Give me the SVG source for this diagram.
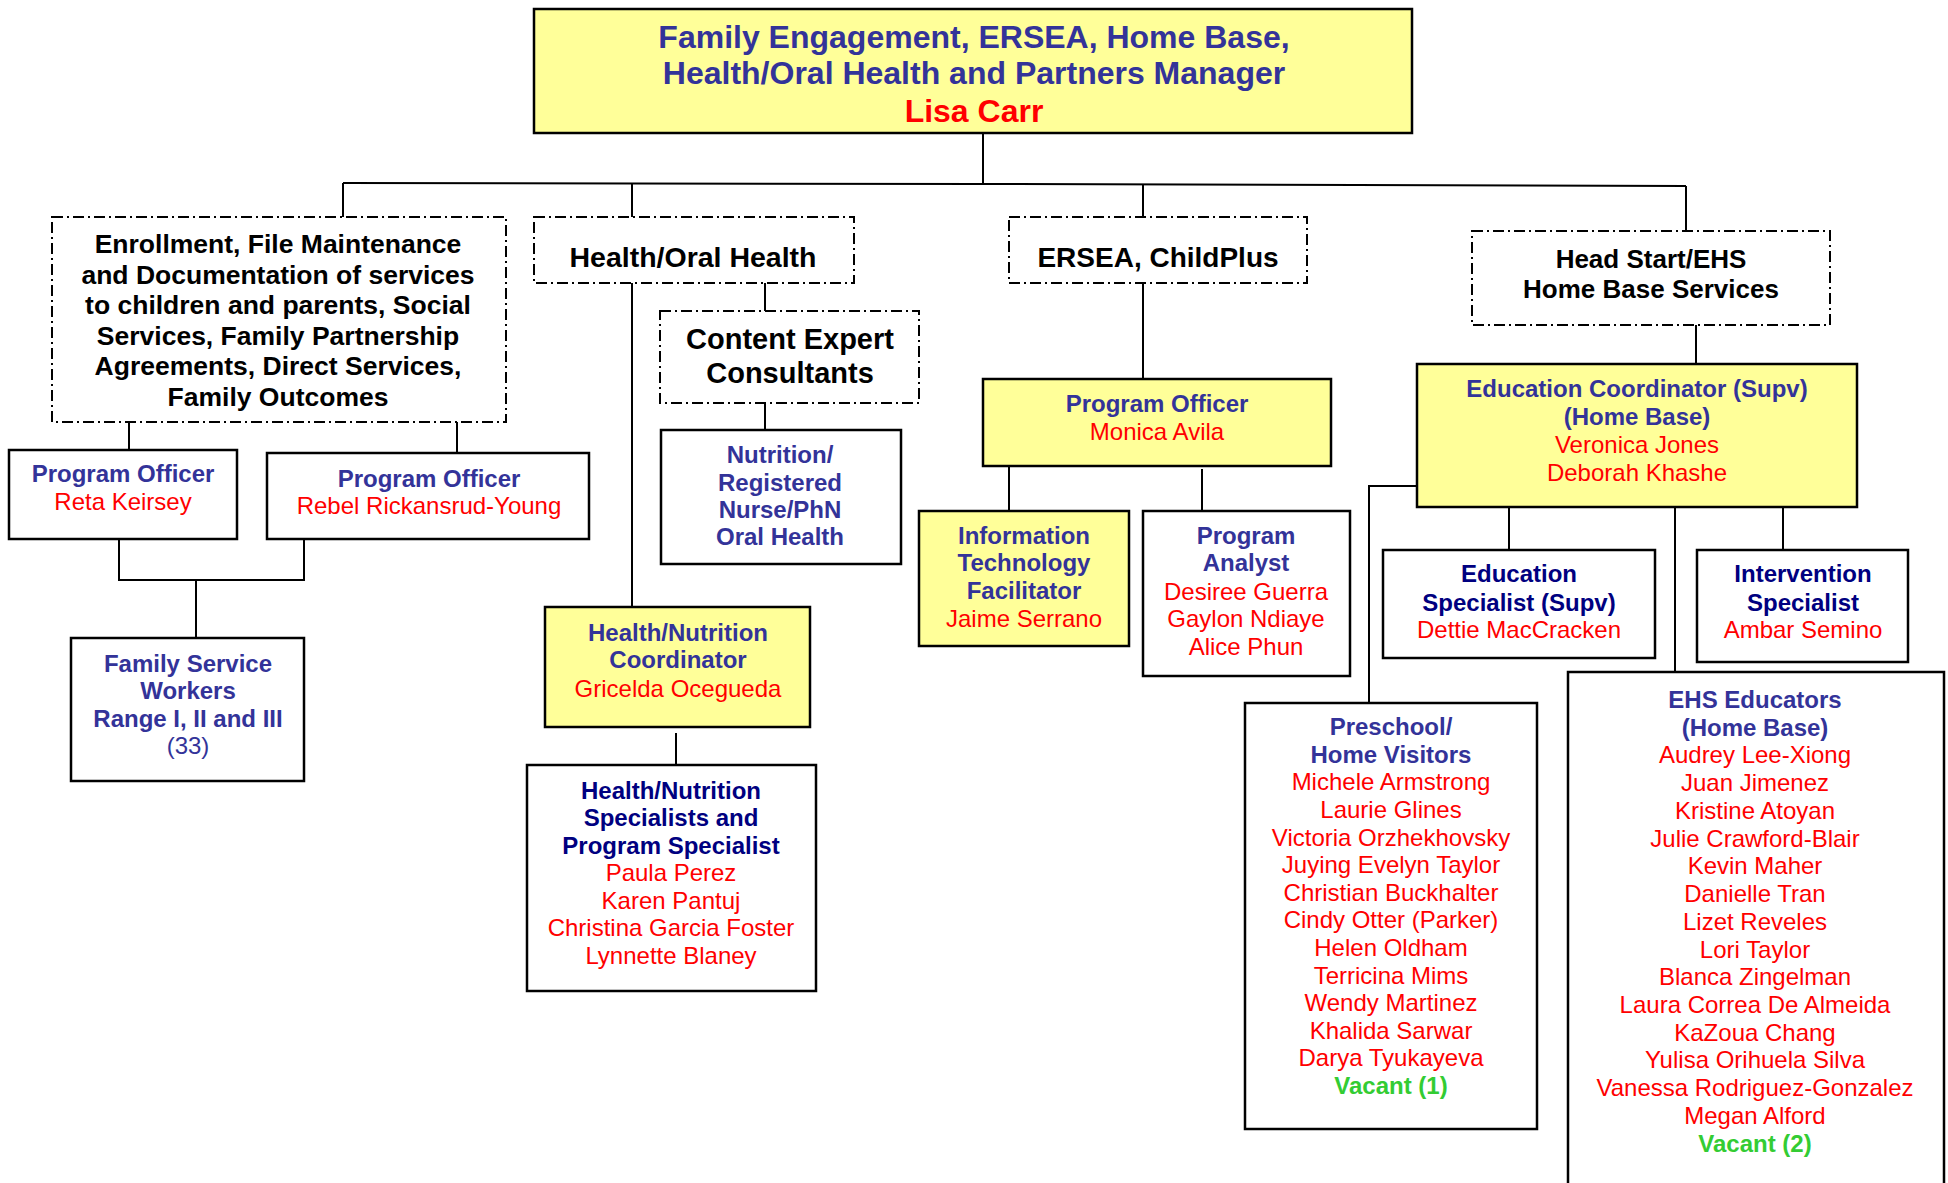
<svg xmlns="http://www.w3.org/2000/svg" width="1948" height="1183" viewBox="0 0 1948 1183">
<style>
text{font-family:"Liberation Sans",Arial,sans-serif;text-anchor:middle}
.box{fill:#fff;stroke:#000;stroke-width:2.5}
.yel{fill:#FFFF99;stroke:#000;stroke-width:2.5}
.dd{fill:#fff;stroke:#000;stroke-width:2;stroke-dasharray:11 4 2 4}
.ln{fill:none;stroke:#000;stroke-width:2}
.t{font-size:32px;font-weight:bold;fill:#333399}
.tr{font-size:32px;font-weight:bold;fill:#FF0000}
.k{font-weight:bold;fill:#000}
.b{font-size:24px;font-weight:bold;fill:#333399}
.bn{font-size:24px;fill:#333399}
.n{font-size:24px;font-weight:bold;fill:#000080}
.r{font-size:24px;fill:#FF0000}
.g{font-size:24px;font-weight:bold;fill:#33CC33}
</style>
<g id="connectors">
<polyline class="ln" points="983,133 983,183"/>
<polyline class="ln" points="343,183 983,184 1686,186"/>
<polyline class="ln" points="343,183 343,217"/>
<polyline class="ln" points="632,183 632,607"/>
<polyline class="ln" points="1143,185 1143,379"/>
<polyline class="ln" points="1686,186 1686,231"/>
<polyline class="ln" points="765,283 765,311"/>
<polyline class="ln" points="765,403 765,430"/>
<polyline class="ln" points="676,733 676,765"/>
<polyline class="ln" points="129,422 129,450"/>
<polyline class="ln" points="457,422 457,453"/>
<polyline class="ln" points="119,539 119,580 304,580 304,539"/>
<polyline class="ln" points="196,580 196,638"/>
<polyline class="ln" points="1009,466 1009,511"/>
<polyline class="ln" points="1202,469 1202,511"/>
<polyline class="ln" points="1696,325 1696,364"/>
<polyline class="ln" points="1509,507 1509,550"/>
<polyline class="ln" points="1783,507 1783,550"/>
<polyline class="ln" points="1675,507 1675,672"/>
<polyline class="ln" points="1417,486 1369,486 1369,703"/>
</g>
<g id="manager">
<rect class="yel" x="534" y="9" width="878" height="124"/>
<text class="t" x="974" y="48">Family Engagement, ERSEA, Home Base,</text>
<text class="t" x="974" y="84">Health/Oral Health and Partners Manager</text>
<text class="tr" x="974" y="122">Lisa Carr</text>
</g>
<g id="enrollment">
<rect class="dd" x="52" y="217" width="454" height="205"/>
<text class="k" font-size="26.5" x="278" y="253">Enrollment, File Maintenance</text>
<text class="k" font-size="26.5" x="278" y="283.5">and Documentation of services</text>
<text class="k" font-size="26.5" x="278" y="314">to children and parents, Social</text>
<text class="k" font-size="26.5" x="278" y="344.5">Services, Family Partnership</text>
<text class="k" font-size="26.5" x="278" y="375">Agreements, Direct Services,</text>
<text class="k" font-size="26.5" x="278" y="405.5">Family Outcomes</text>
</g>
<g id="health-oral">
<rect class="dd" x="534" y="217" width="320" height="66"/>
<text class="k" font-size="28.5" x="693" y="267">Health/Oral Health</text>
</g>
<g id="content-expert">
<rect class="dd" x="660" y="311" width="259" height="92"/>
<text class="k" font-size="29" x="790" y="349">Content Expert</text>
<text class="k" font-size="29" x="790" y="383">Consultants</text>
</g>
<g id="nutrition">
<rect class="box" x="661" y="430" width="240" height="134"/>
<text class="b" x="780" y="463">Nutrition/</text>
<text class="b" x="780" y="490.5">Registered</text>
<text class="b" x="780" y="518">Nurse/PhN</text>
<text class="b" x="780" y="545">Oral Health</text>
</g>
<g id="hn-coordinator">
<rect class="yel" x="545" y="607" width="265" height="120"/>
<text class="b" x="678" y="641">Health/Nutrition</text>
<text class="b" x="678" y="668">Coordinator</text>
<text class="r" x="678" y="697">Gricelda Ocegueda</text>
</g>
<g id="hn-specialists">
<rect class="box" x="527" y="765" width="289" height="226"/>
<text class="n" x="671" y="798.5">Health/Nutrition</text>
<text class="n" x="671" y="826">Specialists and</text>
<text class="n" x="671" y="853.5">Program Specialist</text>
<text class="r" x="671" y="881">Paula Perez</text>
<text class="r" x="671" y="908.5">Karen Pantuj</text>
<text class="r" x="671" y="936">Christina Garcia Foster</text>
<text class="r" x="671" y="963.5">Lynnette Blaney</text>
</g>
<g id="po-reta">
<rect class="box" x="9" y="450" width="228" height="89"/>
<text class="b" x="123" y="482">Program Officer</text>
<text class="r" x="123" y="510">Reta Keirsey</text>
</g>
<g id="po-rebel">
<rect class="box" x="267" y="453" width="322" height="86"/>
<text class="b" x="429" y="487">Program Officer</text>
<text class="r" x="429" y="514">Rebel Rickansrud-Young</text>
</g>
<g id="fsw">
<rect class="box" x="71" y="638" width="233" height="143"/>
<text class="b" x="188" y="672">Family Service</text>
<text class="b" x="188" y="699">Workers</text>
<text class="b" x="188" y="726.5">Range I, II and III</text>
<text class="bn" x="188" y="754">(33)</text>
</g>
<g id="ersea">
<rect class="dd" x="1009" y="217" width="298" height="66"/>
<text class="k" font-size="28" x="1158" y="267">ERSEA, ChildPlus</text>
</g>
<g id="po-monica">
<rect class="yel" x="983" y="379" width="348" height="87"/>
<text class="b" x="1157" y="412">Program Officer</text>
<text class="r" x="1157" y="439.5">Monica Avila</text>
</g>
<g id="it">
<rect class="yel" x="919" y="511" width="210" height="135"/>
<text class="b" x="1024" y="544">Information</text>
<text class="b" x="1024" y="571">Technology</text>
<text class="b" x="1024" y="598.5">Facilitator</text>
<text class="r" x="1024" y="627">Jaime Serrano</text>
</g>
<g id="analyst">
<rect class="box" x="1143" y="511" width="207" height="165"/>
<text class="b" x="1246" y="544">Program</text>
<text class="b" x="1246" y="571">Analyst</text>
<text class="r" x="1246" y="600">Desiree Guerra</text>
<text class="r" x="1246" y="627">Gaylon Ndiaye</text>
<text class="r" x="1246" y="654.5">Alice Phun</text>
</g>
<g id="headstart">
<rect class="dd" x="1472" y="231" width="358" height="94"/>
<text class="k" font-size="26" x="1651" y="267.5">Head Start/EHS</text>
<text class="k" font-size="26" x="1651" y="297.5">Home Base Services</text>
</g>
<g id="ed-coordinator">
<rect class="yel" x="1417" y="364" width="440" height="143"/>
<text class="b" x="1637" y="397">Education Coordinator (Supv)</text>
<text class="b" x="1637" y="424.5">(Home Base)</text>
<text class="r" x="1637" y="453">Veronica Jones</text>
<text class="r" x="1637" y="480.5">Deborah Khashe</text>
</g>
<g id="ed-specialist">
<rect class="box" x="1383" y="550" width="272" height="108"/>
<text class="n" x="1519" y="582">Education</text>
<text class="n" x="1519" y="611">Specialist (Supv)</text>
<text class="r" x="1519" y="638">Dettie MacCracken</text>
</g>
<g id="intervention">
<rect class="box" x="1697" y="550" width="211" height="112"/>
<text class="n" x="1803" y="582">Intervention</text>
<text class="n" x="1803" y="611">Specialist</text>
<text class="r" x="1803" y="638">Ambar Semino</text>
</g>
<g id="preschool">
<rect class="box" x="1245" y="703" width="292" height="426"/>
<text class="b" x="1391" y="735">Preschool/</text>
<text class="b" x="1391" y="762.6">Home Visitors</text>
<text class="r" x="1391" y="790.2">Michele Armstrong</text>
<text class="r" x="1391" y="817.9">Laurie Glines</text>
<text class="r" x="1391" y="845.5">Victoria Orzhekhovsky</text>
<text class="r" x="1391" y="873.1">Juying Evelyn Taylor</text>
<text class="r" x="1391" y="900.7">Christian Buckhalter</text>
<text class="r" x="1391" y="928.3">Cindy Otter (Parker)</text>
<text class="r" x="1391" y="956">Helen Oldham</text>
<text class="r" x="1391" y="983.6">Terricina Mims</text>
<text class="r" x="1391" y="1011.2">Wendy Martinez</text>
<text class="r" x="1391" y="1038.8">Khalida Sarwar</text>
<text class="r" x="1391" y="1066.4">Darya Tyukayeva</text>
<text class="g" x="1391" y="1094">Vacant (1)</text>
</g>
<g id="ehs-educators">
<rect class="box" x="1568" y="672" width="376" height="530"/>
<text class="b" x="1755" y="708">EHS Educators</text>
<text class="b" x="1755" y="735.7">(Home Base)</text>
<text class="r" x="1755" y="763.4">Audrey Lee-Xiong</text>
<text class="r" x="1755" y="791.2">Juan Jimenez</text>
<text class="r" x="1755" y="818.9">Kristine Atoyan</text>
<text class="r" x="1755" y="846.6">Julie Crawford-Blair</text>
<text class="r" x="1755" y="874.3">Kevin Maher</text>
<text class="r" x="1755" y="902">Danielle Tran</text>
<text class="r" x="1755" y="929.8">Lizet Reveles</text>
<text class="r" x="1755" y="957.5">Lori Taylor</text>
<text class="r" x="1755" y="985.2">Blanca Zingelman</text>
<text class="r" x="1755" y="1012.9">Laura Correa De Almeida</text>
<text class="r" x="1755" y="1040.6">KaZoua Chang</text>
<text class="r" x="1755" y="1068.4">Yulisa Orihuela Silva</text>
<text class="r" x="1755" y="1096.1">Vanessa Rodriguez-Gonzalez</text>
<text class="r" x="1755" y="1123.8">Megan Alford</text>
<text class="g" x="1755" y="1151.5">Vacant (2)</text>
</g>
</svg>
